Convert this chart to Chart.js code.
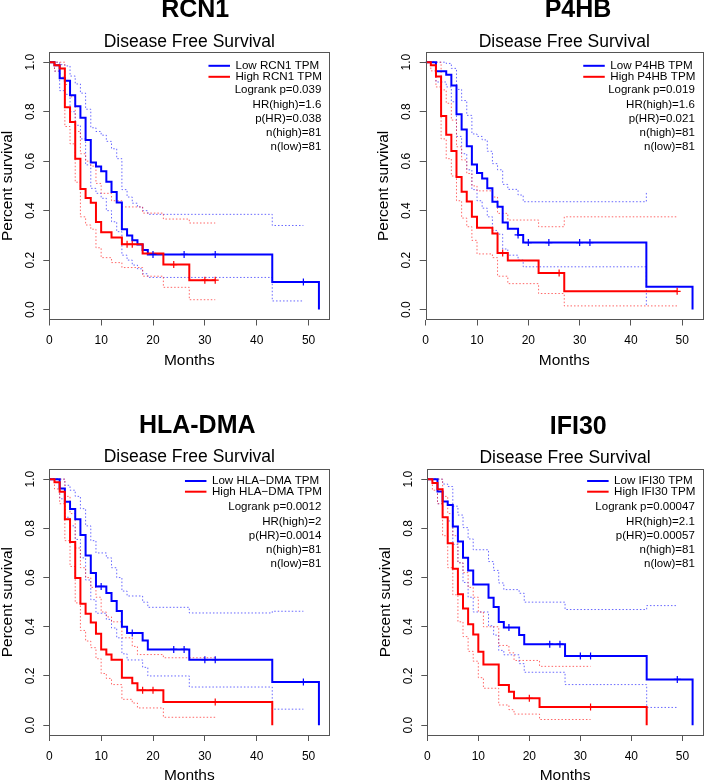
<!DOCTYPE html>
<html>
<head>
<meta charset="utf-8">
<script src="https://cdn.jsdelivr.net/npm/chart.js@4.4.0/dist/chart.umd.min.js"></script>
<style>
html,body{margin:0;padding:0;background:#fff;overflow:hidden}
#cadre{position:relative;width:708px;height:782px;overflow:hidden;background:#fff}
canvas{position:absolute}
</style>
</head>
<body>
<div id="cadre">
<canvas id="rcn1"></canvas>
<canvas id="p4hb"></canvas>
<canvas id="hla"></canvas>
<canvas id="ifi30"></canvas>
</div>
<script>
// graduations
var xTicks = [0, 10, 20, 30, 40, 50]
var yTicks = [0, 0.2, 0.4, 0.6, 0.8, 1]

// RCN1 - low (bleu)
var rcn1LowT = [0,1,2,3,4,5,6,7,8,9,10,11,12,13,14,15,16,17,18,19,43,52]
var rcn1LowS = [1,0.988,0.935,0.925,0.866,0.822,0.775,0.686,0.595,0.578,0.559,0.517,0.475,0.433,0.325,0.30,0.28,0.263,0.241,0.223,0.112,0]
var rcn1LowUp = [1,1,0.99,0.985,0.944,0.912,0.875,0.81,0.735,0.72,0.705,0.68,0.65,0.61,0.485,0.455,0.43,0.415,0.40,0.385,0.34]
var rcn1LowLo = [1,0.964,0.885,0.87,0.80,0.745,0.69,0.585,0.49,0.47,0.45,0.40,0.355,0.315,0.22,0.20,0.18,0.165,0.145,0.13,0.035]
var rcn1LowCens = [20,26,32,49]
// RCN1 - high (rouge)
var rcn1HighT = [0,1,2,3,4,5,6,7,8,9,10,12,14,18,22,27]
var rcn1HighS = [1,0.988,0.975,0.818,0.758,0.61,0.487,0.451,0.432,0.354,0.313,0.291,0.264,0.227,0.182,0.119]
var rcn1HighUp = [1,1,1,0.91,0.86,0.72,0.63,0.60,0.58,0.51,0.47,0.44,0.415,0.39,0.366,0.35]
var rcn1HighLo = [1,0.964,0.94,0.74,0.67,0.515,0.375,0.342,0.325,0.25,0.21,0.19,0.17,0.135,0.09,0.04]
var rcn1HighCens = [15,16,24,30,32]

// P4HB
var p4hbLowT = [0,2,4,5,6,7,8,9,10,11,12,13,14,15,16,18,19,43,52]
var p4hbLowS = [1,0.963,0.949,0.906,0.79,0.728,0.66,0.587,0.552,0.53,0.491,0.436,0.416,0.352,0.327,0.302,0.271,0.092,0]
var p4hbLowUp = [1,1,0.995,0.975,0.89,0.845,0.785,0.71,0.70,0.686,0.64,0.59,0.565,0.506,0.486,0.463,0.436,0.475]
var p4hbLowLo = [1,0.92,0.90,0.84,0.70,0.63,0.565,0.485,0.44,0.41,0.375,0.32,0.305,0.245,0.22,0.20,0.173,0.018]
var p4hbLowCens = [18,20,24,30,32]
var p4hbHighT = [0,1,2,3,4,5,6,7,8,9,10,13,14,16,22,27]
var p4hbHighS = [1,0.988,0.942,0.783,0.707,0.641,0.536,0.476,0.437,0.375,0.331,0.308,0.229,0.198,0.148,0.074]
var p4hbHighUp = [1,1,1,0.888,0.834,0.766,0.658,0.605,0.55,0.50,0.48,0.455,0.389,0.362,0.335,0.375]
var p4hbHighLo = [1,0.965,0.90,0.69,0.61,0.54,0.44,0.37,0.335,0.28,0.225,0.21,0.135,0.105,0.065,0.015]
var p4hbHighCens = [15,26,49]

// HLA-DMA
var hlaLowT = [0,2,3,4,5,6,7,8,9,11,12,13,14,15,18,19,27,43,52]
var hlaLowS = [1,0.962,0.908,0.879,0.837,0.773,0.69,0.618,0.564,0.537,0.505,0.464,0.40,0.375,0.344,0.308,0.266,0.175,0]
var hlaLowUp = [1,1,0.975,0.955,0.93,0.88,0.81,0.75,0.70,0.68,0.64,0.60,0.545,0.525,0.50,0.479,0.456,0.463]
var hlaLowLo = [1,0.92,0.845,0.81,0.755,0.68,0.59,0.51,0.455,0.43,0.395,0.355,0.29,0.265,0.235,0.20,0.155,0.065]
var hlaLowCens = [10,16,24,26,30,32,49]
var hlaHighT = [0,1,2,3,4,5,6,7,8,9,10,11,12,14,16,17,22,43]
var hlaHighS = [1,0.987,0.949,0.837,0.744,0.598,0.494,0.453,0.417,0.372,0.308,0.287,0.266,0.193,0.17,0.142,0.094,0]
var hlaHighUp = [1,1,1,0.93,0.86,0.72,0.64,0.60,0.56,0.52,0.46,0.44,0.42,0.355,0.32,0.287,0.274]
var hlaHighLo = [1,0.96,0.90,0.75,0.645,0.497,0.385,0.342,0.315,0.27,0.21,0.19,0.165,0.105,0.09,0.07,0.032]
var hlaHighCens = [18,20,32]

// IFI30
var ifiLowT = [0,2,3,4,5,6,7,8,9,12,13,14,15,18,19,27,43,52]
var ifiLowS = [1,0.95,0.909,0.895,0.808,0.747,0.68,0.629,0.572,0.518,0.48,0.419,0.397,0.366,0.329,0.281,0.186,0]
var ifiLowUp = [1,1,0.98,0.97,0.89,0.854,0.803,0.757,0.713,0.665,0.629,0.578,0.551,0.536,0.50,0.47,0.486]
var ifiLowLo = [1,0.90,0.845,0.83,0.735,0.66,0.58,0.52,0.46,0.404,0.366,0.304,0.286,0.25,0.215,0.165,0.072]
var ifiLowCens = [16,24,26,30,32,49]
var ifiHighT = [0,1,2,3,4,5,6,7,8,9,10,11,14,16,17,22,43]
var ifiHighS = [1,0.984,0.959,0.845,0.739,0.636,0.532,0.474,0.41,0.368,0.298,0.247,0.163,0.136,0.109,0.074,0]
var ifiHighUp = [1,1,1,0.93,0.86,0.77,0.66,0.62,0.56,0.52,0.46,0.40,0.324,0.294,0.263,0.239]
var ifiHighLo = [1,0.955,0.90,0.77,0.64,0.53,0.42,0.36,0.30,0.26,0.193,0.15,0.082,0.063,0.045,0.023]
var ifiHighCens = [20,32]

// textes
var rcn1Stats = ["Logrank p=0.039","HR(high)=1.6","p(HR)=0.038","n(high)=81","n(low)=81"]
var p4hbStats = ["Logrank p=0.019","HR(high)=1.6","p(HR)=0.021","n(high)=81","n(low)=81"]
var hlaStats = ["Logrank p=0.0012","HR(high)=2","p(HR)=0.0014","n(high)=81","n(low)=81"]
var ifiStats = ["Logrank p=0.00047","HR(high)=2.1","p(HR)=0.00057","n(high)=81","n(low)=81"]

var POLICE = '"Liberation Sans", Arial, Helvetica, sans-serif'
var BLEU = "#0000ff"
var ROUGE = "#ff0000"

function courbe(t, s, fin){
	var pts = []
	for(var i=0;i<t.length;i++){ pts.push({x: t[i], y: s[i]}) }
	pts.push({x: fin, y: s[s.length-1]})
	return pts
}
function bande(t, b, fin){
	var pts = []
	for(var i=0;i<b.length;i++){ pts.push({x: t[i], y: b[i]}) }
	pts.push({x: fin, y: b[b.length-1]})
	return pts
}
function croix(t, s, cens){
	var pts = []
	for(var j=0;j<cens.length;j++){
		var v = 1
		for(var i=0;i<t.length;i++){ if(t[i] <= cens[j]) v = s[i] }
		pts.push({x: cens[j], y: v})
	}
	return pts
}

var deco = {
	id: "deco",
	afterDraw: function(chart, args, o){
		var ctx = chart.ctx
		var a = chart.chartArea
		ctx.save()
		ctx.strokeStyle = "#555"
		ctx.lineWidth = 1
		ctx.strokeRect(Math.round(a.left)+0.5, Math.round(a.top)+0.5, Math.round(a.right-a.left), Math.round(a.bottom-a.top))
		ctx.fillStyle = "#000"
		ctx.textAlign = "center"
		ctx.textBaseline = "middle"
		ctx.font = "bold 25px " + POLICE
		ctx.fillText(o.gene, o.titleX, o.titleY)
		ctx.font = "17.5px " + POLICE
		ctx.fillText("Disease Free Survival", (a.left+a.right)/2, o.subY)
		// legende
		ctx.font = "11.6px " + POLICE
		var droite = a.right - 7.5
		var larg = Math.max(ctx.measureText(o.leg[0]).width, ctx.measureText(o.leg[1]).width)
		var gauche = droite - larg
		var coul = [BLEU, ROUGE]
		for(var i=0;i<2;i++){
			var y = a.top + o.legY[i]
			ctx.strokeStyle = coul[i]
			ctx.lineWidth = 2
			ctx.beginPath()
			ctx.moveTo(gauche - 27, y)
			ctx.lineTo(gauche - 5.5, y)
			ctx.stroke()
			ctx.textAlign = "left"
			ctx.fillText(o.leg[i], gauche, y)
		}
		ctx.textAlign = "right"
		ctx.font = "11.5px " + POLICE
		for(var k=0;k<o.stats.length;k++){
			ctx.fillText(o.stats[k], a.right - 8, a.top + 38 + k*14.1)
		}
		ctx.restore()
	}
}

function panneau(id, p){
	var el = document.getElementById(id)
	el.width = 354
	el.height = p.h
	el.style.left = p.x + "px"
	el.style.top = p.y + "px"
	var ds = [
		{data: croix(p.lowT, p.lowS, p.lowC), showLine: false, pointStyle: "cross", pointRadius: 3.5, pointBorderWidth: 1.2, pointBorderColor: BLEU, order: 0},
		{data: croix(p.highT, p.highS, p.highC), showLine: false, pointStyle: "cross", pointRadius: 3.5, pointBorderWidth: 1.2, pointBorderColor: ROUGE, order: 0},
		{data: courbe(p.highT, p.highS, p.highEnd), borderColor: ROUGE, borderWidth: 2, stepped: true, order: 1},
		{data: courbe(p.lowT, p.lowS, p.lowEnd), borderColor: BLEU, borderWidth: 2, stepped: true, order: 2},
		{data: bande(p.lowT, p.lowUp, p.lowBand), borderColor: "rgba(40,40,255,0.7)", borderWidth: 1, borderDash: [1.5, 2], stepped: true, order: 5},
		{data: bande(p.lowT, p.lowLo, p.lowBand), borderColor: "rgba(40,40,255,0.7)", borderWidth: 1, borderDash: [1.5, 2], stepped: true, order: 5},
		{data: bande(p.highT, p.highUp, p.highBand), borderColor: "rgba(255,40,40,0.7)", borderWidth: 1, borderDash: [1.5, 2], stepped: true, order: 4},
		{data: bande(p.highT, p.highLo, p.highBand), borderColor: "rgba(255,40,40,0.7)", borderWidth: 1, borderDash: [1.5, 2], stepped: true, order: 4}
	]
	new Chart(el, {
		type: "line",
		data: {datasets: ds},
		options: {
			responsive: false,
			animation: false,
			events: [],
			layout: {padding: {left: p.l - 49.3, right: 354 - p.r, top: p.t, bottom: p.h - p.b - 72}},
			elements: {point: {radius: 0}, line: {tension: 0, fill: false}},
			plugins: {
				legend: {display: false},
				tooltip: {enabled: false},
				deco: {gene: p.gene, titleX: p.titleX, titleY: p.titleY, subY: p.subY, leg: p.leg, legY: p.legY, stats: p.stats}
			},
			scales: {
				x: {
					type: "linear", min: 0, max: 54,
					afterBuildTicks: function(s){ s.ticks = xTicks.map(function(v){ return {value: v} }) },
					afterFit: function(s){ s.height = 72 },
					ticks: {autoSkip: false, maxRotation: 0, padding: 8.3, color: "#000", font: {family: POLICE, size: 12}},
					grid: {drawOnChartArea: false, drawTicks: true, tickLength: 6, color: "#555"},
					border: {display: false},
					title: {display: true, text: "Months", color: "#000", font: {family: POLICE, size: 15.5, lineHeight: 1.2}, padding: {top: 0, bottom: 21.7}}
				},
				y: {
					type: "linear", min: -0.04, max: 1.04,
					afterBuildTicks: function(s){ s.ticks = yTicks.map(function(v){ return {value: v} }) },
					afterFit: function(s){ s.width = 49.3 },
					ticks: {autoSkip: false, minRotation: 90, maxRotation: 90, crossAlign: "center", padding: 4.3, color: "#000", font: {family: POLICE, size: 12},
						callback: function(v){ return Number(v).toFixed(1) }},
					grid: {drawOnChartArea: false, drawTicks: true, tickLength: 6, color: "#555"},
					border: {display: false},
					title: {display: true, text: "Percent survival", color: "#000", font: {family: POLICE, size: 15.5, lineHeight: 0.9}, padding: {top: 0.3, bottom: 0}}
				}
			}
		},
		plugins: [deco]
	})
}

panneau("rcn1", {x: 0, y: 0, h: 392, l: 49.3, r: 329.3, t: 52.3, b: 319.5,
	gene: "RCN1", titleX: 195.2, titleY: 10.3, subY: 41.7, legY: [13.5, 24.5],
	leg: ["Low RCN1 TPM", "High RCN1 TPM"], stats: rcn1Stats,
	lowT: rcn1LowT, lowS: rcn1LowS, lowUp: rcn1LowUp, lowLo: rcn1LowLo, lowC: rcn1LowCens, lowEnd: 52, lowBand: 49,
	highT: rcn1HighT, highS: rcn1HighS, highUp: rcn1HighUp, highLo: rcn1HighLo, highC: rcn1HighCens, highEnd: 32, highBand: 32})

panneau("p4hb", {x: 354, y: 0, h: 392, l: 71.7, r: 352.3, t: 52.3, b: 319.5,
	gene: "P4HB", titleX: 224, titleY: 10, subY: 41.7, legY: [13.5, 24.5],
	leg: ["Low P4HB TPM", "High P4HB TPM"], stats: p4hbStats,
	lowT: p4hbLowT, lowS: p4hbLowS, lowUp: p4hbLowUp, lowLo: p4hbLowLo, lowC: p4hbLowCens, lowEnd: 52, lowBand: 43,
	highT: p4hbHighT, highS: p4hbHighS, highUp: p4hbHighUp, highLo: p4hbHighLo, highC: p4hbHighCens, highEnd: 49, highBand: 49})

panneau("hla", {x: 0, y: 391, h: 420, l: 49.3, r: 329.3, t: 78.3, b: 344,
	gene: "HLA-DMA", titleX: 197.2, titleY: 34.7, subY: 66.3, legY: [11.7, 22.4],
	leg: ["Low HLA\u2212DMA TPM", "High HLA\u2212DMA TPM"], stats: hlaStats,
	lowT: hlaLowT, lowS: hlaLowS, lowUp: hlaLowUp, lowLo: hlaLowLo, lowC: hlaLowCens, lowEnd: 52, lowBand: 49,
	highT: hlaHighT, highS: hlaHighS, highUp: hlaHighUp, highLo: hlaHighLo, highC: hlaHighCens, highEnd: 43, highBand: 32})

panneau("ifi30", {x: 354, y: 391, h: 420, l: 73.3, r: 353.5, t: 78.3, b: 344,
	gene: "IFI30", titleX: 224.2, titleY: 35.7, subY: 66.8, legY: [11.7, 22.4],
	leg: ["Low IFI30 TPM", "High IFI30 TPM"], stats: ifiStats,
	lowT: ifiLowT, lowS: ifiLowS, lowUp: ifiLowUp, lowLo: ifiLowLo, lowC: ifiLowCens, lowEnd: 52, lowBand: 49,
	highT: ifiHighT, highS: ifiHighS, highUp: ifiHighUp, highLo: ifiHighLo, highC: ifiHighCens, highEnd: 43, highBand: 32})
</script>
</body>
</html>
